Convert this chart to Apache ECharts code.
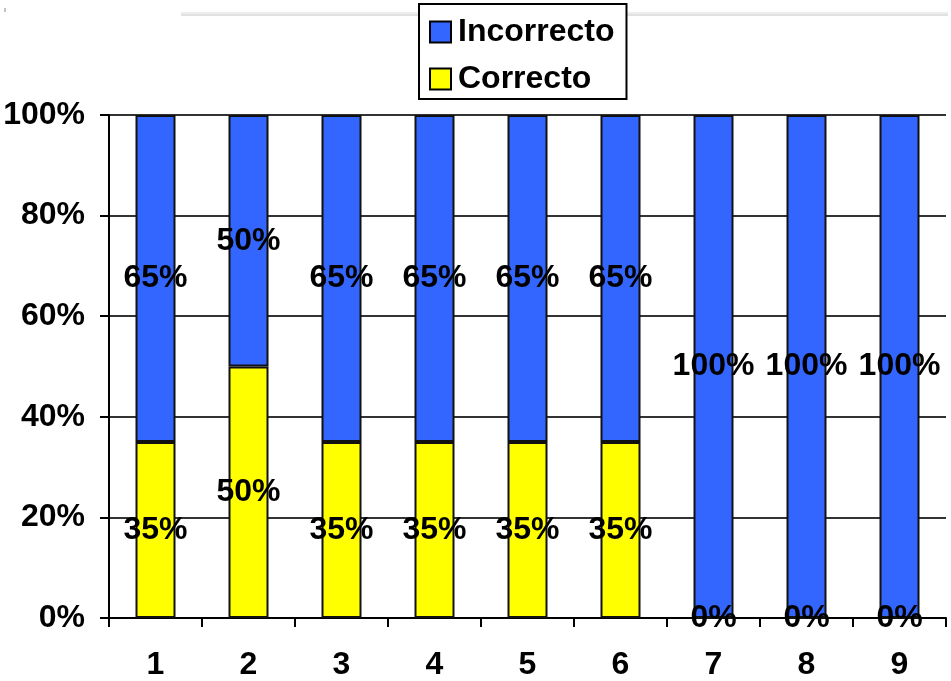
<!DOCTYPE html>
<html>
<head>
<meta charset="utf-8">
<script src="https://cdn.jsdelivr.net/npm/echarts@6/dist/echarts.min.js"></script>
<style>
html,body{margin:0;padding:0;background:#fff;}
#chart{width:951px;height:681px;}
</style>
</head>
<body>
<div id="chart"></div>
<script>
// Question numbers along the x axis
const categories = ['1', '2', '3', '4', '5', '6', '7', '8', '9'];
// Share of answers per question, in percent
const correcto = [35, 50, 35, 35, 35, 35, 0, 0, 0];
const incorrecto = [65, 50, 65, 65, 65, 65, 100, 100, 100];
const yTicks = [0, 20, 40, 60, 80, 100];

const FONT = '"Liberation Sans", Arial, sans-serif';
const FS = 32;
const chart = echarts.init(document.getElementById('chart'));

const labelStyle = {
  show: true,
  position: 'inside',
  formatter: p => p.value + '%',
  color: '#000',
  fontFamily: FONT,
  fontWeight: 'bold',
  fontSize: FS
};

chart.setOption({
  animation: false,
  backgroundColor: '#fff',
  grid: { left: 109, right: 5, top: 115, bottom: 63 },
  legend: {
    orient: 'vertical',
    left: 419,
    top: 4,
    data: ['Incorrecto', 'Correcto'],
    icon: 'rect',
    itemWidth: 21,
    itemHeight: 21,
    itemGap: 15,
    padding: [12, 12, 4, 10],
    borderColor: '#000',
    borderWidth: 2,
    backgroundColor: '#fff',
    itemStyle: { borderColor: '#000', borderWidth: 2 },
    textStyle: {
      color: '#000', fontFamily: FONT, fontWeight: 'bold', fontSize: FS,
      padding: [0, 0, 0, 2]
    }
  },
  xAxis: {
    type: 'category',
    data: categories,
    axisLine: { lineStyle: { color: '#000', width: 2 } },
    axisTick: { show: true, length: 9, inside: false, lineStyle: { color: '#000', width: 2 } },
    axisLabel: {
      color: '#000', fontFamily: FONT, fontWeight: 'bold', fontSize: FS, margin: 31
    }
  },
  yAxis: {
    type: 'value',
    min: yTicks[0],
    max: yTicks[yTicks.length - 1],
    interval: 20,
    axisLine: { show: true, lineStyle: { color: '#000', width: 2 } },
    axisTick: { show: true, length: 9, lineStyle: { color: '#000', width: 2 } },
    axisLabel: {
      color: '#000', fontFamily: FONT, fontWeight: 'bold', fontSize: FS, margin: 24,
      formatter: v => v + '%'
    },
    splitLine: { show: true, lineStyle: { color: '#333', width: 2 } }
  },
  series: [
    {
      name: 'Correcto',
      type: 'bar',
      stack: 'total',
      barWidth: 40,
      data: correcto,
      itemStyle: { color: '#FFFF00', borderColor: '#111', borderWidth: 2 },
      label: labelStyle
    },
    {
      name: 'Incorrecto',
      type: 'bar',
      stack: 'total',
      barWidth: 40,
      data: incorrecto,
      itemStyle: { color: '#3366FF', borderColor: '#111', borderWidth: 2 },
      label: labelStyle
    }
  ],
  graphic: [
    { type: 'line', z: -1, shape: { x1: 181, y1: 13, x2: 948, y2: 13 }, style: { stroke: '#ddd', lineWidth: 1 } },
    { type: 'line', z: -1, shape: { x1: 181, y1: 15, x2: 948, y2: 15 }, style: { stroke: '#c4c4c4', lineWidth: 1 } },
    { type: 'line', shape: { x1: 5, y1: 8, x2: 5, y2: 12 }, style: { stroke: '#888', lineWidth: 1 } }
  ]
});
</script>
</body>
</html>
